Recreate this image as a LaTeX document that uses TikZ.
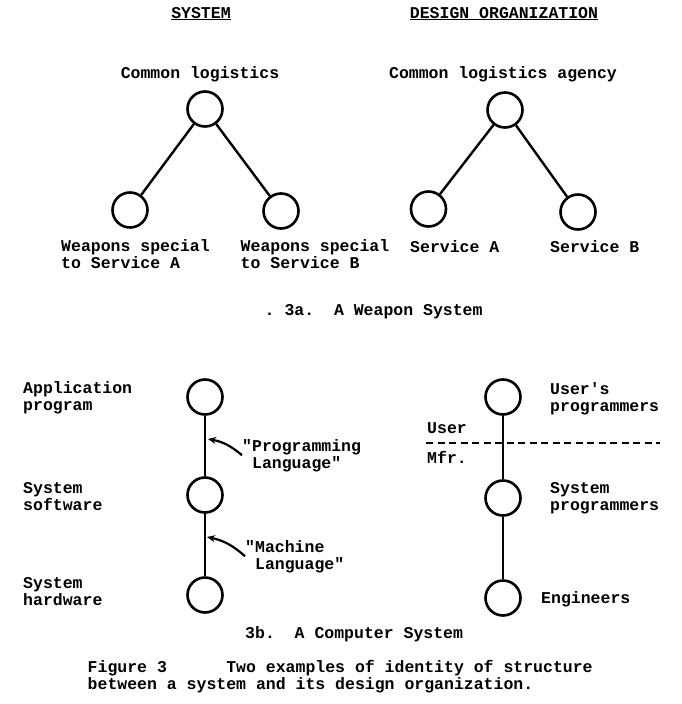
\documentclass[tikz,border=0pt]{standalone}
\usepackage{fontspec}
\newfontfamily\figthreefont{Liberation Mono}
\usetikzlibrary{arrows.meta}
\tikzset{
  figthreecirc/.style={circle,draw,line width=2.6pt,minimum size=35pt,inner sep=0pt},
  figthreelink/.style={line width=2.4pt},
  figthreetext/.style={font=\figthreefont\bfseries\fontsize{16.5}{17}\selectfont,inner sep=0pt,align=left},
  figthreepoint/.style={line width=2.2pt,-{Stealth[length=8pt,width=7pt]}},
  figthreecut/.style={line width=2.2pt,dash pattern=on 7pt off 4.5pt}
}
\begin{document}
\begin{tikzpicture}[x=1pt,y=-1pt]
        \newcommand{\figthreesysx}{205}
        \newcommand{\figthreeorgx}{503}
        \newcommand{\figthreelabelx}{23}
        \newcommand{\figthreerolex}{550}
        \useasboundingbox (0,0) rectangle (682,704);
        % headings
        \node[figthreetext,anchor=base] (syshead) at (201,18) {\underline{SYSTEM}};
        \node[figthreetext,anchor=base] (orghead) at (504,18) {\underline{DESIGN ORGANIZATION}};
        % 3a, weapon system
        \node[figthreecirc] (wcommon) at (\figthreesysx,109) {};
        \node[figthreecirc] (wspecA) at (130,210) {};
        \node[figthreecirc] (wspecB) at (281,211) {};
        \draw[figthreelink] (wcommon) -- (wspecA);
        \draw[figthreelink] (wcommon) -- (wspecB);
        \node[figthreetext,anchor=base] (wcommontext) at (200,78) {Common logistics};
        \node[figthreetext,anchor=base west] (wspecAtext) at (61,268) {Weapons special\\to Service A};
        \node[figthreetext,anchor=base west] (wspecBtext) at (240.5,268) {Weapons special\\to Service B};
        \node[figthreecirc] (acommon) at (505,110) {};
        \node[figthreecirc] (aservA) at (428.5,209) {};
        \node[figthreecirc] (aservB) at (578,212) {};
        \draw[figthreelink] (acommon) -- (aservA);
        \draw[figthreelink] (acommon) -- (aservB);
        \node[figthreetext,anchor=base] (acommontext) at (503,78) {Common logistics agency};
        \node[figthreetext,anchor=base west] (aservAtext) at (410,252) {Service A};
        \node[figthreetext,anchor=base west] (aservBtext) at (550,252) {Service B};
        \node[figthreetext,anchor=base west] (weapontitle) at (264.5,315) {.~3a.~~A Weapon System};
        % 3b, computer system
        \node[figthreecirc] (capp) at (\figthreesysx,397) {};
        \node[figthreecirc] (csoft) at (\figthreesysx,495) {};
        \node[figthreecirc] (chard) at (\figthreesysx,595) {};
        \draw[figthreelink] (capp) -- (csoft);
        \draw[figthreelink] (csoft) -- (chard);
        \node[figthreetext,anchor=base west] (capptext) at (\figthreelabelx,410) {Application\\program};
        \node[figthreetext,anchor=base west] (csofttext) at (\figthreelabelx,510) {System\\software};
        \node[figthreetext,anchor=base west] (chardtext) at (\figthreelabelx,605) {System\\hardware};
        \node[figthreetext,anchor=base west] (proglang) at (242,468) {"Programming\\\hphantom{"}Language"};
        \node[figthreetext,anchor=base west] (machlang) at (245,569) {"Machine\\\hphantom{"}Language"};
        \coordinate (progtip) at (208,439);
        \coordinate (machtip) at (207,537);
        \draw[figthreepoint] (proglang.west) to[bend right=15] (progtip);
        \draw[figthreepoint] (machlang.west) to[bend right=15] (machtip);
        \node[figthreecirc] (ouser) at (\figthreeorgx,397) {};
        \node[figthreecirc] (osys) at (\figthreeorgx,498) {};
        \node[figthreecirc] (oeng) at (\figthreeorgx,598) {};
        \draw[figthreelink] (ouser) -- (osys);
        \draw[figthreelink] (osys) -- (oeng);
        \node[figthreetext,anchor=base west] (ousertext) at (\figthreerolex,411) {User's\\programmers};
        \node[figthreetext,anchor=base west] (osystext) at (\figthreerolex,510) {System\\programmers};
        \node[figthreetext,anchor=base west] (oengtext) at (541,603) {Engineers};
        \node[figthreetext,anchor=base west] (usertext) at (427,433) {User};
        \node[figthreetext,anchor=base west] (mfrtext) at (427,463) {Mfr.};
        \coordinate (cutstart) at (426,443);
        \coordinate (cutend) at (660,443);
        \draw[figthreecut] (cutstart) -- (cutend);
        \node[figthreetext,anchor=base west] (comptitle) at (245,638) {3b.~~A Computer System};
        % caption
        \node[figthreetext,anchor=base west] (caption) at (87.5,689) {Figure 3~~~~~~Two examples of identity of structure\\between a system and its design organization.};
\end{tikzpicture}
\end{document}
